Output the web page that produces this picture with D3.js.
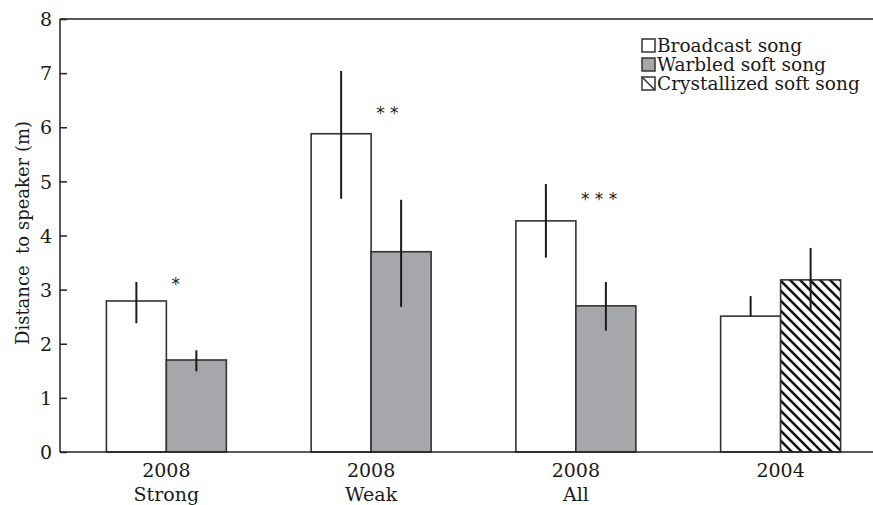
<!DOCTYPE html>
<html>
<head>
<meta charset="utf-8">
<script src="https://cdn.jsdelivr.net/npm/d3@7"></script>
<style>
  body { margin: 0; background: #fff; }
  text { font-family: "DejaVu Serif", serif; fill: #1a1a1a; }
</style>
</head>
<body>
<div id="chart"></div>
<script>
// data
const groups = ["2008 Strong", "2008 Weak", "2008 All", "2004"];
const groupLines = [["2008", "Strong"], ["2008", "Weak"], ["2008", "All"], ["2004", ""]];
const broadcastMean = [2.79, 5.88, 4.27, 2.51];
const broadcastLow  = [2.38, 4.68, 3.59, 2.51];
const broadcastHigh = [3.14, 7.04, 4.95, 2.88];
const softType = ["warbled", "warbled", "warbled", "crystallized"];
const softMean = [1.70, 3.70, 2.70, 3.18];
const softLow  = [1.49, 2.68, 2.24, 2.61];
const softHigh = [1.88, 4.66, 3.14, 3.77];
const stars = ["*", "* *", "* * *", ""];
const yTicks = [0, 1, 2, 3, 4, 5, 6, 7, 8];
const legendItems = [
  {key: "broadcast", label: "Broadcast song"},
  {key: "warbled", label: "Warbled soft song"},
  {key: "crystallized", label: "Crystallized soft song"}
];

const width = 873, height = 505;
const svg = d3.select("#chart").append("svg")
  .attr("width", width).attr("height", height);

const defs = svg.append("defs");
const pat = defs.append("pattern")
  .attr("id", "hatch")
  .attr("patternUnits", "userSpaceOnUse")
  .attr("width", 10).attr("height", 10);
pat.append("rect").attr("width", 10).attr("height", 10).attr("fill", "#fff");
pat.append("path")
  .attr("d", "M-2,-2 L12,12 M-2,8 L2,12 M8,-2 L12,2")
  .attr("stroke", "#111").attr("stroke-width", 2.6);

const fillFor = k => k === "broadcast" ? "#fff" : k === "warbled" ? "#a6a7aa" : "url(#hatch)";

const x0 = d3.scaleBand().domain(groups).range([64, 883])
  .paddingInner(0.414).paddingOuter(0.207);
const x1 = d3.scaleBand().domain(["broadcast", "soft"]).range([0, x0.bandwidth()]);
const y = d3.scaleLinear().domain([0, 8]).range([452, 19]);

// y axis (ticks inward)
const yAxis = svg.append("g")
  .attr("transform", "translate(60,0)")
  .call(d3.axisRight(y).tickValues(yTicks).tickSize(7).tickFormat(d3.format("d")));
yAxis.select(".domain").remove();
yAxis.selectAll("line").attr("stroke", "#222").attr("stroke-width", 1.5);
yAxis.selectAll("text")
  .attr("x", -8).attr("text-anchor", "end").attr("dy", "0.35em")
  .style("font-size", "19px");

svg.append("line").attr("x1", 60).attr("x2", 60).attr("y1", y(8)).attr("y2", y(0))
  .attr("stroke", "#222").attr("stroke-width", 1.5);
svg.append("line").attr("x1", 60).attr("x2", width).attr("y1", y(8)).attr("y2", y(8))
  .attr("stroke", "#222").attr("stroke-width", 1.5);

svg.append("text")
  .attr("transform", `translate(29,233) rotate(-90)`)
  .attr("text-anchor", "middle")
  .style("font-size", "18px")
  .attr("xml:space", "preserve")
  .text("Distance  to speaker (m)");

// bars
const bars = [];
groups.forEach((g, i) => {
  bars.push({g, key: "broadcast", col: "broadcast", mean: broadcastMean[i], lo: broadcastLow[i], hi: broadcastHigh[i]});
  bars.push({g, key: softType[i], col: "soft", mean: softMean[i], lo: softLow[i], hi: softHigh[i]});
});

svg.selectAll("rect.bar")
  .data(bars)
  .enter().append("rect")
  .attr("class", "bar")
  .attr("x", d => x0(d.g) + x1(d.col))
  .attr("y", d => y(d.mean))
  .attr("width", x1.bandwidth())
  .attr("height", d => y(0) - y(d.mean))
  .attr("fill", d => fillFor(d.key))
  .attr("stroke", "#333").attr("stroke-width", 1.6);

svg.selectAll("line.err")
  .data(bars)
  .enter().append("line")
  .attr("class", "err")
  .attr("x1", d => x0(d.g) + x1(d.col) + x1.bandwidth() / 2)
  .attr("x2", d => x0(d.g) + x1(d.col) + x1.bandwidth() / 2)
  .attr("y1", d => y(d.hi))
  .attr("y2", d => y(d.lo))
  .attr("stroke", "#1a1a1a").attr("stroke-width", 2);

// x axis line
svg.append("line").attr("x1", 60).attr("x2", width).attr("y1", y(0)).attr("y2", y(0))
  .attr("stroke", "#222").attr("stroke-width", 1.5);

// significance stars
groups.forEach((g, i) => {
  svg.append("text")
    .attr("x", x0(g) + x1("soft") + 5)
    .attr("y", [290, 119, 205, 0][i])
    .attr("xml:space", "preserve")
    .style("font-size", "17px")
    .style("font-family", "DejaVu Sans, sans-serif")
    .text(stars[i]);
});

// group labels
groupLines.forEach((lines, i) => {
  const cx = x0(groups[i]) + x0.bandwidth() / 2;
  lines.forEach((t, j) => {
    svg.append("text")
      .attr("x", cx).attr("y", 477 + j * 24)
      .attr("text-anchor", "middle")
      .style("font-size", "19px")
      .text(t);
  });
});

// legend
const legend = svg.append("g").attr("transform", "translate(642,39)");
legendItems.forEach((it, i) => {
  legend.append("rect")
    .attr("x", 0).attr("y", i * 19)
    .attr("width", 13).attr("height", 13)
    .attr("fill", it.key === "crystallized" ? "#fff" : fillFor(it.key))
    .attr("stroke", "#333").attr("stroke-width", 1.5);
  if (it.key === "crystallized") {
    legend.append("line")
      .attr("x1", 0).attr("y1", i * 19).attr("x2", 13).attr("y2", i * 19 + 13)
      .attr("stroke", "#333").attr("stroke-width", 1.5);
  }
  legend.append("text")
    .attr("x", 15).attr("y", i * 19 + 13)
    .style("font-size", "18.5px")
    .text(it.label);
});
</script>
</body>
</html>
